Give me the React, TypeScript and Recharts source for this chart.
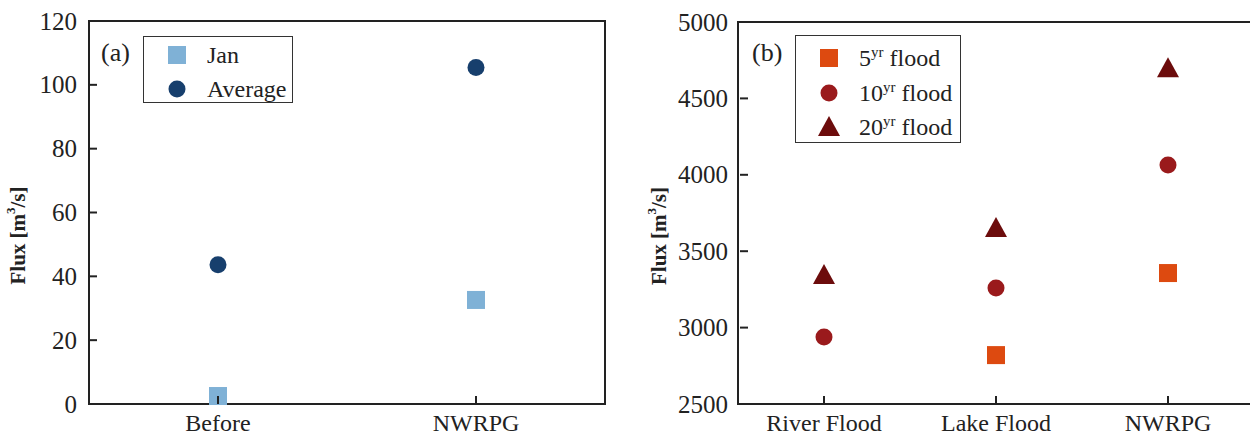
import { ScatterChart, Scatter, XAxis, YAxis, ReferenceArea, Legend, Label } from 'recharts'

const FONT = '"Liberation Serif", "Times New Roman", serif'
const INK = '#222'

// panel (a)
const periodCategories = ['Before', 'NWRPG']
const janFlux = [2.5, 32.6]
const averageFlux = [43.6, 105.4]
const fluxTicksA = [0, 20, 40, 60, 80, 100, 120]

// panel (b)
const floodCategories = ['River Flood', 'Lake Flood', 'NWRPG']
const flood5yr: (number | null)[] = [null, 2820, 3357]
const flood10yr = [2938, 3259, 4064]
const flood20yr = [3344, 3652, 4697]
const fluxTicksB = [2500, 3000, 3500, 4000, 4500, 5000]

const COLORS = {
  jan: '#7fb1d6',
  average: '#173f6d',
  f5: '#dd4a10',
  f10: '#9a1a1c',
  f20: '#6c0c0c',
}

function toPoints(values: (number | null)[]) {
  return values
    .map((v, i) => ({ x: i, y: v }))
    .filter((p) => p.y !== null)
}

type Kind = 'square' | 'circle' | 'triangle'

function Marker({ kind, cx, cy, fill }: { kind: Kind; cx: number; cy: number; fill: string }) {
  if (kind === 'square') return <rect x={cx - 9} y={cy - 9} width={18} height={18} fill={fill} />
  if (kind === 'circle') return <circle cx={cx} cy={cy} r={8.5} fill={fill} />
  return <polygon points={`${cx},${cy - 11} ${cx + 11},${cy + 9} ${cx - 11},${cy + 9}`} fill={fill} />
}

const shapeOf = (kind: Kind, fill: string) => (props: any) =>
  <Marker kind={kind} cx={props.cx} cy={props.cy} fill={fill} />

function YTick({ x, y, payload }: any) {
  return (
    <g>
      <line x1={x + 12} x2={x + 20} y1={y} y2={y} stroke={INK} strokeWidth={2} />
      <text x={x} y={y} textAnchor="end" dominantBaseline="central" fontFamily={FONT} fontSize={25} fill={INK}>
        {payload.value}
      </text>
    </g>
  )
}

const XTick = (labels: string[]) => ({ x, y, payload }: any) => (
  <g>
    <line x1={x} x2={x} y1={y - 19} y2={y - 27} stroke={INK} strokeWidth={2} />
    <text x={x} y={y} textAnchor="middle" dominantBaseline="central" fontFamily={FONT} fontSize={24} fill={INK}>
      {labels[payload.value]}
    </text>
  </g>
)

function FluxLabel({ viewBox, left }: any) {
  const cx = viewBox.x + left
  const cy = viewBox.y + viewBox.height / 2 + 23
  return (
    <text
      x={cx}
      y={cy}
      transform={`rotate(-90 ${cx} ${cy})`}
      textAnchor="middle"
      dominantBaseline="central"
      fontFamily={FONT}
      fontWeight="bold"
      fontSize={21}
      fill={INK}
    >
      Flux [m<tspan dy={-8} fontSize={13}>3</tspan>
      <tspan dy={8}>/s]</tspan>
    </text>
  )
}

type LegendRow = { kind: Kind; color: string; text: string; sup?: string }

function BoxLegend({ rows, rowGap, top }: { rows: LegendRow[]; rowGap: number; top: number }) {
  return (
    <div style={{ position: 'relative', width: '100%', height: '100%', border: '1.5px solid #333', boxSizing: 'border-box' }}>
      {rows.map((r, i) => (
        <div key={i}>
          <svg style={{ position: 'absolute', left: 20, top: top + i * rowGap - 12 }} width={26} height={24}>
            <Marker kind={r.kind} cx={13} cy={12} fill={r.color} />
          </svg>
          <div
            style={{
              position: 'absolute',
              left: 63,
              top: top + i * rowGap - 15,
              fontFamily: FONT,
              fontSize: 24,
              lineHeight: '30px',
              color: INK,
              whiteSpace: 'nowrap',
            }}
          >
            {r.sup ? (
              <>
                {r.text}
                <sup style={{ fontSize: 15, verticalAlign: 'top', lineHeight: '18px' }}>{r.sup}</sup> flood
              </>
            ) : (
              r.text
            )}
          </div>
        </div>
      ))}
    </div>
  )
}

const panelTag = (text: string, left: number) => (
  <div style={{ position: 'absolute', left, top: 38, fontFamily: FONT, fontSize: 26, lineHeight: '30px', color: INK }}>
    {text}
  </div>
)

export default function App() {
  const legendA: LegendRow[] = [
    { kind: 'square', color: COLORS.jan, text: 'Jan' },
    { kind: 'circle', color: COLORS.average, text: 'Average' },
  ]
  const legendB: LegendRow[] = [
    { kind: 'square', color: COLORS.f5, text: '5', sup: 'yr' },
    { kind: 'circle', color: COLORS.f10, text: '10', sup: 'yr' },
    { kind: 'triangle', color: COLORS.f20, text: '20', sup: 'yr' },
  ]

  return (
    <div style={{ position: 'absolute', left: 0, top: 0, width: 1250, height: 439, overflow: 'hidden', background: '#fff' }}>
      <div style={{ position: 'absolute', left: 0, top: 0 }}>
        <ScatterChart width={620} height={439} margin={{ top: 21, right: 15, bottom: 0, left: 0 }}>
          <XAxis
            type="number"
            dataKey="x"
            domain={[-0.5, 1.5]}
            ticks={[0, 1]}
            height={35}
            tickSize={0}
            tickMargin={19}
            tickLine={false}
            tick={XTick(periodCategories)}
            axisLine={{ stroke: INK, strokeWidth: 2 }}
          />
          <YAxis
            type="number"
            dataKey="y"
            domain={[0, 120]}
            ticks={fluxTicksA}
            width={89}
            tickSize={0}
            tickMargin={12}
            tickLine={false}
            tick={<YTick />}
            axisLine={{ stroke: INK, strokeWidth: 2 }}
          >
            <Label content={(p: any) => <FluxLabel {...p} left={18} />} />
          </YAxis>
          <ReferenceArea x1={-0.5} x2={1.5} y1={0} y2={120} fill="none" stroke={INK} strokeWidth={2} ifOverflow="visible" />
          <Scatter name="Jan" data={toPoints(janFlux)} shape={shapeOf('square', COLORS.jan)} isAnimationActive={false} />
          <Scatter name="Average" data={toPoints(averageFlux)} shape={shapeOf('circle', COLORS.average)} isAnimationActive={false} />
          <Legend
            layout="horizontal"
            verticalAlign="middle"
            align="center"
            wrapperStyle={{ left: 143, top: 36, width: 150, height: 67 }}
            content={() => <BoxLegend rows={legendA} rowGap={34} top={18} />}
          />
        </ScatterChart>
        {panelTag('(a)', 101)}
      </div>

      <div style={{ position: 'absolute', left: 620, top: 0 }}>
        <ScatterChart width={640} height={439} margin={{ top: 22, right: 6, bottom: 0, left: 0 }}>
          <XAxis
            type="number"
            dataKey="x"
            domain={[-0.5, 2.5]}
            ticks={[0, 1, 2]}
            height={35}
            tickSize={0}
            tickMargin={19}
            tickLine={false}
            tick={XTick(floodCategories)}
            axisLine={{ stroke: INK, strokeWidth: 2 }}
          />
          <YAxis
            type="number"
            dataKey="y"
            domain={[2500, 5000]}
            ticks={fluxTicksB}
            width={118}
            tickSize={0}
            tickMargin={10}
            tickLine={false}
            tick={<YTick />}
            axisLine={{ stroke: INK, strokeWidth: 2 }}
          >
            <Label content={(p: any) => <FluxLabel {...p} left={39} />} />
          </YAxis>
          <ReferenceArea x1={-0.5} x2={2.5} y1={2500} y2={5000} fill="none" stroke={INK} strokeWidth={2} ifOverflow="visible" />
          <Scatter name="5yr flood" data={toPoints(flood5yr)} shape={shapeOf('square', COLORS.f5)} isAnimationActive={false} />
          <Scatter name="10yr flood" data={toPoints(flood10yr)} shape={shapeOf('circle', COLORS.f10)} isAnimationActive={false} />
          <Scatter name="20yr flood" data={toPoints(flood20yr)} shape={shapeOf('triangle', COLORS.f20)} isAnimationActive={false} />
          <Legend
            layout="horizontal"
            verticalAlign="middle"
            align="center"
            wrapperStyle={{ left: 175, top: 35, width: 166, height: 108 }}
            content={() => <BoxLegend rows={legendB} rowGap={34.5} top={22} />}
          />
        </ScatterChart>
        {panelTag('(b)', 132)}
      </div>
    </div>
  )
}
